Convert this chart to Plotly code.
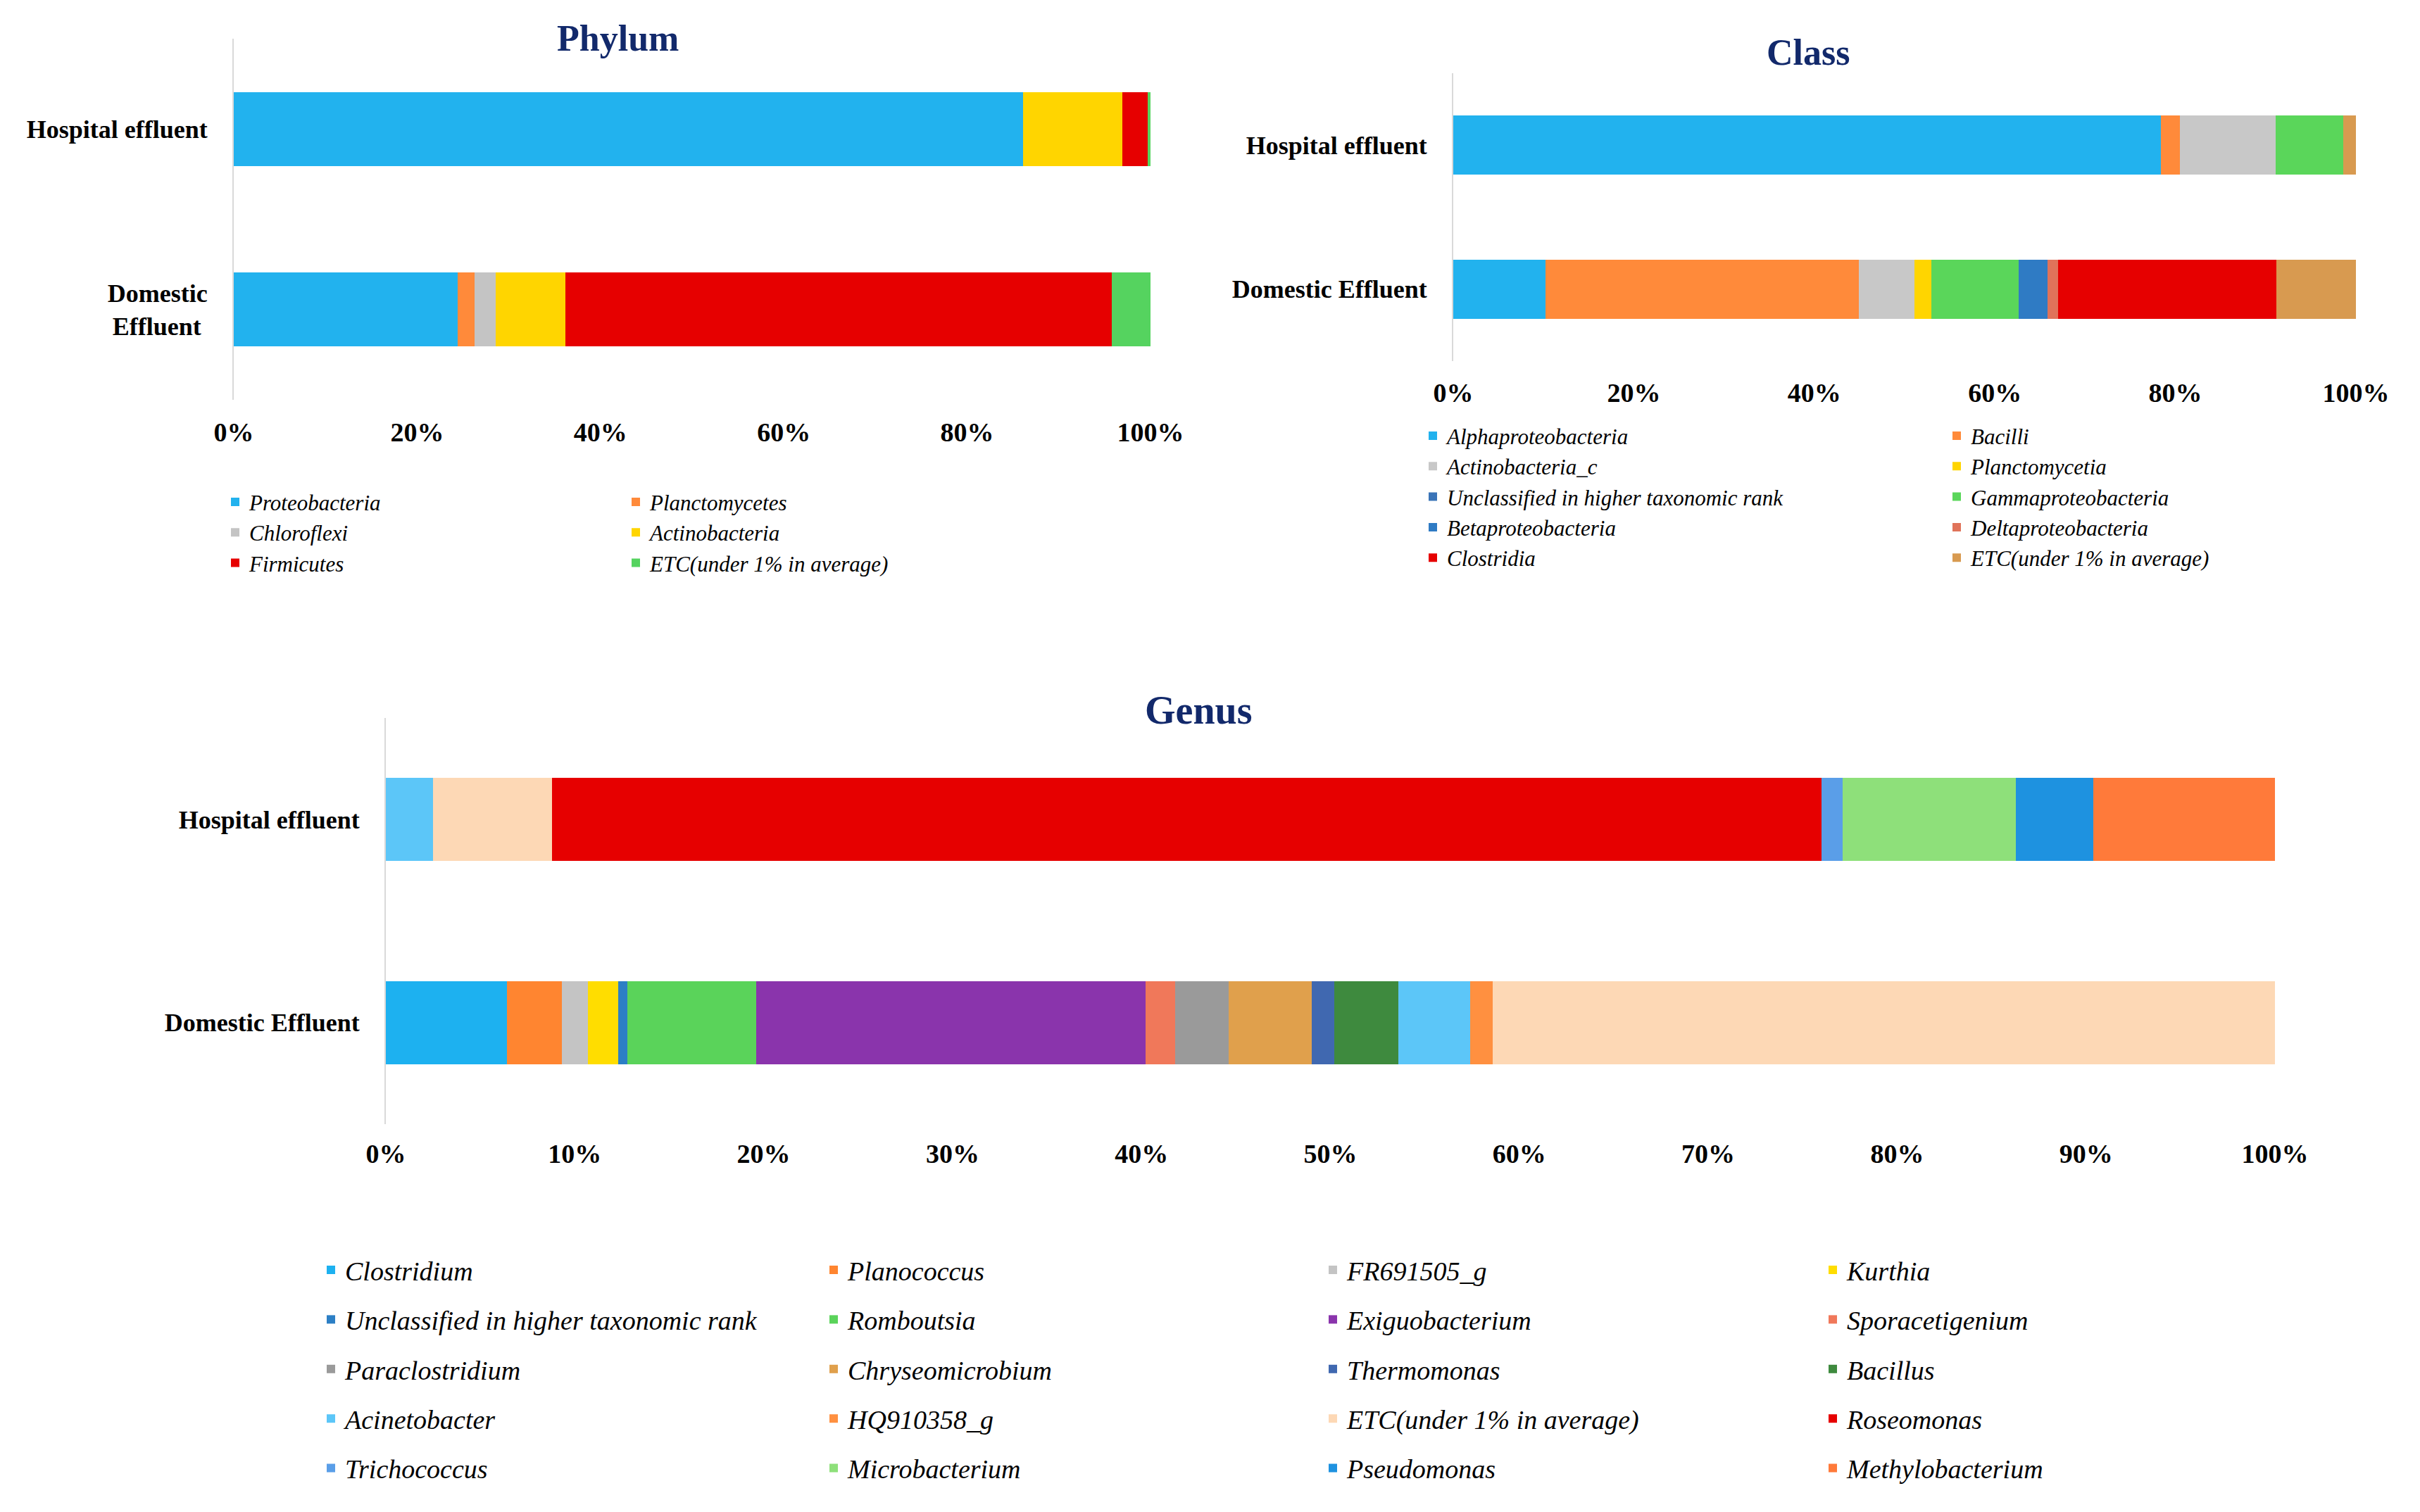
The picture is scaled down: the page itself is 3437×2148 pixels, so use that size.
import plotly.graph_objects as go

# ---------------- data ----------------
phylum_groups = ["Domestic<br>Effluent\u00a0", "Hospital effluent"]
phylum_taxa = ["Proteobacteria", "Planctomycetes", "Chloroflexi", "Actinobacteria",
               "Firmicutes", "ETC(under 1% in average)"]
phylum_hospital = [86.1, 0.0, 0.0, 10.8, 2.8, 0.3]
phylum_domestic = [24.4, 1.9, 2.3, 7.6, 59.6, 4.2]
phylum_colors = ["#22B2EE", "#FF8A3A", "#C4C4C4", "#FFD500", "#E60000", "#55D35F"]

class_groups = ["Domestic Effluent", "Hospital effluent"]
class_taxa = ["Alphaproteobacteria", "Bacilli", "Actinobacteria_c", "Planctomycetia",
              "Unclassified in higher taxonomic rank", "Gammaproteobacteria",
              "Betaproteobacteria", "Deltaproteobacteria", "Clostridia",
              "ETC(under 1% in average)"]
class_hospital = [78.4, 2.1, 10.6, 0.0, 0.0, 7.5, 0.0, 0.0, 0.0, 1.4]
class_domestic = [10.2, 34.7, 6.2, 1.9, 0.0, 9.6, 3.2, 1.2, 24.2, 8.8]
class_colors = ["#22B2EE", "#FF8A3A", "#C8C8C8", "#FFD500", "#3A74B8", "#5AD65A",
                "#2F7BC4", "#E0735A", "#E60000", "#D89A50"]

genus_groups = ["Domestic Effluent", "Hospital effluent"]
genus_taxa = ["Clostridium", "Planococcus", "FR691505_g", "Kurthia",
              "Unclassified in higher taxonomic rank", "Romboutsia", "Exiguobacterium",
              "Sporacetigenium", "Paraclostridium", "Chryseomicrobium", "Thermomonas",
              "Bacillus", "Acinetobacter", "HQ910358_g", "ETC(under 1% in average)",
              "Roseomonas", "Trichococcus", "Microbacterium", "Pseudomonas",
              "Methylobacterium"]
genus_hospital = [0.0, 0.0, 0.0, 0.0, 0.0, 0.0, 0.0, 0.0, 0.0, 0.0, 0.0, 0.0,
                  2.5, 0.0, 6.3, 67.2, 1.1, 9.2, 4.1, 9.6]
genus_domestic = [6.4, 2.9, 1.4, 1.6, 0.5, 6.8, 20.6, 1.6, 2.8, 4.4, 1.2, 3.4,
                  3.8, 1.2, 41.4, 0.0, 0.0, 0.0, 0.0, 0.0]
genus_colors = ["#1DB1F0", "#FF8530", "#C4C4C4", "#FFDD00", "#2C7FC5", "#5AD35A",
                "#8A34AC", "#F0785A", "#9A9A9A", "#E0A04C", "#4068B0", "#3E8A3E",
                "#5CC6F8", "#FF9040", "#FDD8B5", "#E60000", "#5A9EE8", "#8EE07A",
                "#1E92E0", "#FF7A3A"]

phylum_ticks = [0, 20, 40, 60, 80, 100]
class_ticks = [0, 20, 40, 60, 80, 100]
genus_ticks = [0, 10, 20, 30, 40, 50, 60, 70, 80, 90, 100]

# ---------------- figure ----------------
W, H = 3437, 2148
FONT = "Liberation Serif"
NAVY = "#12296B"

fig = go.Figure()


def add_panel(taxa, colors, hosp, dom, groups, xa, ya, legend_ids):
    n = len(legend_ids)
    for i, name in enumerate(taxa):
        leg = legend_ids[i % n]
        fig.add_trace(go.Bar(
            x=[dom[i], hosp[i]], y=groups, orientation="h", name=name,
            marker=dict(color=colors[i], line=dict(width=0)),
            xaxis=xa, yaxis=ya, legend=leg, legendgroup=f"{leg}_{i}",
            hoverinfo="name+x",
        ))


add_panel(phylum_taxa, phylum_colors, phylum_hospital, phylum_domestic,
          phylum_groups, "x", "y", ["legend", "legend2"])
add_panel(class_taxa, class_colors, class_hospital, class_domestic,
          class_groups, "x2", "y2", ["legend3", "legend4"])
add_panel(genus_taxa, genus_colors, genus_hospital, genus_domestic,
          genus_groups, "x3", "y3", ["legend5", "legend6", "legend7", "legend8"])


def px_x(v):
    return v / W


def px_y(v):
    return 1 - v / H


def xaxis_cfg(left, right, ticks, anchor, standoff):
    return dict(domain=[px_x(left), px_x(right)], range=[0, 100], tickvals=ticks,
                ticktext=[f"{t}%" for t in ticks], showgrid=False, zeroline=False,
                showline=False, ticks="", anchor=anchor, fixedrange=True,
                ticklabelstandoff=standoff,
                tickfont=dict(family=FONT, size=38, color="#000000", weight="bold"))


def yaxis_cfg(top, bottom, groups, anchor):
    return dict(domain=[px_y(bottom), px_y(top)], type="category",
                categoryorder="array", categoryarray=groups, showgrid=False,
                zeroline=False, showline=True, linecolor="#D9D9D9", linewidth=2,
                ticks="", anchor=anchor, fixedrange=True, ticklabelstandoff=28,
                tickfont=dict(family=FONT, size=36, color="#000000", weight="bold"))


def legend_cfg(text_left, first_row_center, size, gap):
    h = 1.3 * size + 3
    top = first_row_center - 5 - h / 2
    return dict(x=px_x(text_left - 40), y=px_y(top), xanchor="left", yanchor="top",
                orientation="v", bgcolor="rgba(0,0,0,0)", borderwidth=0,
                tracegroupgap=gap, itemclick=False, itemdoubleclick=False,
                font=dict(family=FONT, size=size, color="#000000", style="italic"))


layout = dict(
    width=W, height=H, paper_bgcolor="#FFFFFF", plot_bgcolor="#FFFFFF",
    margin=dict(l=0, r=0, t=0, b=0, autoexpand=False),
    barmode="stack", bargap=0.59, showlegend=True,
    xaxis=xaxis_cfg(324, 1626, phylum_ticks, "y", 20),
    yaxis=yaxis_cfg(47, 560, phylum_groups, "x"),
    xaxis2=xaxis_cfg(2056, 3338, class_ticks, "y2", 19),
    yaxis2=yaxis_cfg(96, 505, class_groups, "x2"),
    xaxis3=xaxis_cfg(540, 3223, genus_ticks, "y3", 16),
    yaxis3=yaxis_cfg(1012, 1589, genus_groups, "x3"),
    legend=legend_cfg(346, 705, 31, 0),
    legend2=legend_cfg(915, 705, 31, 0),
    legend3=legend_cfg(2047, 611, 31, 0),
    legend4=legend_cfg(2791, 611, 31, 0),
    legend5=legend_cfg(482, 1796, 38, 18),
    legend6=legend_cfg(1196, 1796, 38, 18),
    legend7=legend_cfg(1905, 1796, 38, 18),
    legend8=legend_cfg(2615, 1796, 38, 18),
    annotations=[
        dict(text="Phylum", x=px_x(869), y=px_y(46), xref="paper", yref="paper",
             showarrow=False, xanchor="center", yanchor="middle",
             font=dict(family=FONT, size=52, color=NAVY, weight="bold")),
        dict(text="Class", x=px_x(2560), y=px_y(67), xref="paper", yref="paper",
             showarrow=False, xanchor="center", yanchor="middle",
             font=dict(family=FONT, size=52, color=NAVY, weight="bold")),
        dict(text="Genus", x=px_x(1694), y=px_y(1001), xref="paper", yref="paper",
             showarrow=False, xanchor="center", yanchor="middle",
             font=dict(family=FONT, size=56, color=NAVY, weight="bold")),
    ],
)
fig.update_layout(**layout)

fig.write_html("out.html")
